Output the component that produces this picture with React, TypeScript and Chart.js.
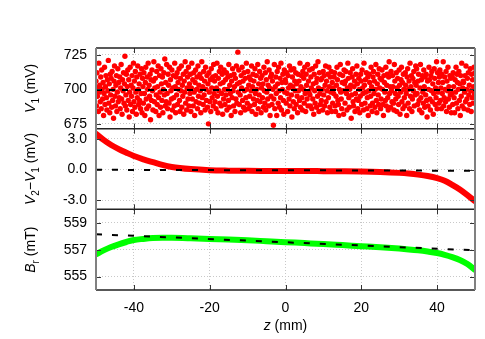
import React, { useEffect, useRef } from 'react';
import { Chart, registerables } from 'chart.js';

Chart.register(...registerables);

// ---- data ----
const V1_VALUES = [
  706,688,712,695,701,684,719,698,703,691,709,686,714,700,693,705,681,697,716,689,702,710,694,685,707,
  699,721,690,704,683,711,696,708,687,713,692,700,679,706,717,695,688,703,710,684,698,715,691,705,694,
  709,686,701,718,693,682,707,699,712,690,704,724,688,696,711,685,702,714,692,707,680,698,716,689,703,
  695,710,684,701,719,691,706,687,713,698,682,709,694,717,700,689,704,692,711,686,697,715,683,708,702,
  690,712,697,681,705,716,693,686,709,700,719,688,703,695,711,678,707,692,714,699,685,706,720,691,701,
  708,684,696,713,689,702,717,694,681,710,698,687,715,704,692,709,683,700,712,696,722,688,705,691,718,
  697,686,711,703,690,716,680,707,699,693,714,685,701,710,694,688,719,702,683,709,696,712,689,705,700,
  715,692,684,708,699,717,687,703,695,711,682,706,698,720,690,713,685,701,709,693,716,688,704,697,711,
  684,701,719,693,707,688,712,698,681,705,714,691,700,709,686,717,695,703,690,711,699,683,708,720,694,
  702,689,713,696,706,685,716,700,692,710,687,704,675,712,698,691,707,684,715,701,694,709,688,718,697,
  706,691,710,686,701,719,695,683,708,699,713,690,704,716,688,697,711,682,705,693,714,700,689,707,696,
  712,685,700,709,692,718,687,703,697,710,681,706,694,715,699,688,711,702,684,708,693,717,690,704,727,
  698,714,689,705,696,683,710,701,716,692,706,687,712,699,685,708,694,719,700,690,713,686,703,709,695,
  688,707,699,717,684,702,711,693,706,689,715,697,682,710,700,692,718,686,704,696,713,691,708,683,701,
  710,694,704,687,716,699,690,712,685,707,698,720,693,703,688,714,701,681,709,695,711,689,706,700,674,
  693,718,686,702,709,697,681,713,704,690,716,699,687,708,694,719,685,705,700,711,692,682,714,698,707,
  705,690,712,697,684,710,701,693,717,688,703,714,696,680,709,702,691,715,686,706,699,712,689,704,695,
  683,711,699,706,692,719,687,702,710,694,685,713,700,708,690,716,697,684,711,703,693,718,688,706,698,
  714,696,688,709,701,686,715,693,704,682,711,699,690,717,705,687,708,695,720,701,684,712,697,689,707,
  692,708,700,685,713,696,710,688,703,717,691,706,699,683,711,694,716,702,687,709,698,713,684,705,690,
  701,697,709,712,688,684,695,703,716,707,692,689,681,700,711,718,698,693,686,705,710,699,682,714,704,
  690,706,713,697,685,701,719,708,694,687,700,712,703,679,696,709,715,691,688,702,706,684,697,711,693,
  717,704,686,692,708,700,683,695,711,706,689,714,701,697,685,719,703,690,707,698,712,686,694,709,681,
  699,711,705,688,695,716,702,684,690,709,713,697,706,687,700,718,692,683,704,711,696,689,715,701,708,
  686,693,707,714,700,689,681,710,705,698,692,716,688,703,711,694,685,709,720,697,702,687,713,699,691,
  710,702,690,685,718,706,697,693,712,684,701,708,695,689,714,703,682,698,707,716,691,705,686,711,700,
  694,688,712,703,697,681,709,715,690,700,706,686,719,695,702,710,684,693,708,699,713,688,705,696,717,
  703,715,697,689,706,711,692,685,701,718,694,707,683,710,698,690,714,702,687,709,696,711,692,680,706,
  688,700,716,707,693,685,710,699,713,691,704,682,697,715,708,689,701,694,720,686,712,698,705,690,709,
  714,692,701,686,711,697,705,720,688,694,709,700,691,713,684,706,699,716,693,702,687,710,696,708,683,
  697,709,689,712,702,694,683,707,698,716,690,711,705,686,700,713,692,704,681,710,695,719,688,701,706,
  705,686,698,710,691,717,700,693,708,685,712,696,703,689,715,699,684,711,694,707,690,702,716,697,712,
];
const Z_MIN = -50;
const Z_MAX = 50;

const Z_CURVE = [-50,-48,-46,-44,-42,-40,-37.5,-35,-32.5,-30,-25,-20,-15,-10,-5,0,5,10,15,20,25,30,32.5,35,37.5,40,42,44,46,48,50];
const DIFF_VALUES = [3.5,2.9,2.4,2.0,1.65,1.32,1.0,0.72,0.45,0.25,0.04,-0.07,-0.11,-0.13,-0.14,-0.15,-0.15,-0.16,-0.17,-0.19,-0.24,-0.33,-0.4,-0.5,-0.64,-0.85,-1.1,-1.5,-1.95,-2.5,-3.1];
const BR_VALUES = [556.65,556.95,557.2,557.4,557.57,557.72,557.8,557.86,557.88,557.88,557.85,557.8,557.75,557.7,557.63,557.56,557.49,557.42,557.34,557.26,557.18,557.08,557.02,556.95,556.86,556.75,556.62,556.45,556.23,555.93,555.5];

const FIT_Z = [-50, 50];
const V1_FIT = [699.5, 699.5];
const DIFF_FIT = [-0.03, -0.12];
const BR_FIT = [558.15, 556.95];

const X_TICKS = [-40, -20, 0, 20, 40];
const V1_TICKS = [675, 700, 725];
const DIFF_TICKS = [-3, 0, 3];
const BR_TICKS = [555, 557, 559];

const FONT = '"Liberation Sans", Arial, Helvetica, sans-serif';

type Part = { t: string; i?: boolean; sub?: boolean };

function drawRich(ctx: CanvasRenderingContext2D, parts: Part[], cx: number, cy: number, angle: number) {
  ctx.save();
  ctx.translate(cx, cy);
  ctx.rotate(angle);
  const fontOf = (p: Part) => `${p.i ? 'italic ' : ''}${p.sub ? 10 : 14}px ${FONT}`;
  let total = 0;
  const widths = parts.map((p) => {
    ctx.font = fontOf(p);
    const w = ctx.measureText(p.t).width;
    total += w;
    return w;
  });
  let x = -total / 2;
  ctx.fillStyle = '#000';
  ctx.textBaseline = 'alphabetic';
  ctx.textAlign = 'left';
  parts.forEach((p, k) => {
    ctx.font = fontOf(p);
    ctx.fillText(p.t, x, p.sub ? 9 : 5);
    x += widths[k];
  });
  ctx.restore();
}

const framePlugin = {
  id: 'frame',
  afterDraw(chart: any) {
    const ctx: CanvasRenderingContext2D = chart.ctx;
    const ca = chart.chartArea;
    const xs = chart.scales.x;
    const panels = [
      { s: chart.scales.y1, ticks: V1_TICKS, title: [{ t: 'V', i: true }, { t: '1', sub: true }, { t: ' (mV)' }] },
      { s: chart.scales.y2, ticks: DIFF_TICKS, title: [{ t: 'V', i: true }, { t: '2', sub: true }, { t: '\u2212' }, { t: 'V', i: true }, { t: '1', sub: true }, { t: ' (mV)' }] },
      { s: chart.scales.y3, ticks: BR_TICKS, title: [{ t: 'B', i: true }, { t: 'r', sub: true }, { t: ' (mT)' }] },
    ];
    ctx.save();
    // inward ticks
    ctx.strokeStyle = '#333';
    ctx.lineWidth = 1;
    ctx.beginPath();
    panels.forEach(({ s, ticks }) => {
      X_TICKS.forEach((v) => {
        const px = Math.round(xs.getPixelForValue(v)) + 0.5;
        ctx.moveTo(px, s.top);
        ctx.lineTo(px, s.top + 5);
        ctx.moveTo(px, s.bottom);
        ctx.lineTo(px, s.bottom - 5);
      });
      ticks.forEach((v) => {
        const py = Math.round(s.getPixelForValue(v)) + 0.5;
        ctx.moveTo(ca.left, py);
        ctx.lineTo(ca.left + 5, py);
        ctx.moveTo(ca.right, py);
        ctx.lineTo(ca.right - 5, py);
      });
    });
    ctx.stroke();
    // horizontal borders
    ctx.strokeStyle = '#222';
    ctx.lineWidth = 1.5;
    ctx.beginPath();
    const hs = [panels[0].s.top, panels[0].s.bottom, panels[1].s.bottom, panels[2].s.bottom];
    hs.forEach((y) => {
      ctx.moveTo(ca.left, y);
      ctx.lineTo(ca.right, y);
    });
    ctx.stroke();
    // vertical borders
    ctx.strokeStyle = '#808080';
    ctx.lineWidth = 2;
    ctx.beginPath();
    ctx.moveTo(ca.left, ca.top);
    ctx.lineTo(ca.left, ca.bottom);
    ctx.moveTo(ca.right, ca.top);
    ctx.lineTo(ca.right, ca.bottom);
    ctx.stroke();
    // titles
    panels.forEach(({ s, title }) => {
      drawRich(ctx, title as Part[], 30, (s.top + s.bottom) / 2, -Math.PI / 2);
    });
    drawRich(ctx, [{ t: 'z', i: true }, { t: ' (mm)' }], (ca.left + ca.right) / 2, 325, 0);
    ctx.restore();
  },
};

export default function App() {
  const ref = useRef<HTMLCanvasElement | null>(null);
  useEffect(() => {
    const canvas = ref.current;
    if (!canvas) return;
    const n = V1_VALUES.length;
    const scatter = V1_VALUES.map((y, i) => ({ x: Z_MIN + (i * (Z_MAX - Z_MIN)) / (n - 1), y }));
    const pts = (zs: number[], ys: number[]) => zs.map((x, i) => ({ x, y: ys[i] }));
    const gridCommon = { color: '#c8c8c8', lineWidth: 1, drawTicks: false };
    const borderCommon = { display: false, dash: [1, 2] };
    const tickFont = { family: FONT, size: 14 };
    const yAxis = (min: number, max: number, ticks: number[], fmt: (v: number) => string) => ({
      type: 'linear',
      position: 'left',
      stack: 'panels',
      stackWeight: 1,
      min,
      max,
      grid: gridCommon,
      border: borderCommon,
      ticks: { font: tickFont, color: '#000', padding: 9, callback: (v: any) => fmt(Number(v)) },
      afterBuildTicks: (s: any) => {
        s.ticks = ticks.map((v) => ({ value: v }));
      },
      afterFit: (s: any) => {
        s.width = 96;
      },
    });
    const chart = new Chart(canvas, {
      type: 'line',
      data: {
        datasets: [
          { data: pts(FIT_Z, V1_FIT), yAxisID: 'y1', borderColor: '#000', borderWidth: 2, borderDash: [6, 7], pointRadius: 0, order: 0 },
          { data: pts(FIT_Z, DIFF_FIT), yAxisID: 'y2', borderColor: '#000', borderWidth: 2, borderDash: [6, 10], pointRadius: 0, order: 0 },
          { data: pts(FIT_Z, BR_FIT), yAxisID: 'y3', borderColor: '#000', borderWidth: 2, borderDash: [6, 10], pointRadius: 0, order: 0 },
          { data: scatter, yAxisID: 'y1', showLine: false, pointRadius: 2.7, pointBackgroundColor: '#ff0000', pointBorderWidth: 0, order: 1 },
          { data: pts(Z_CURVE, DIFF_VALUES), yAxisID: 'y2', borderColor: '#ff0000', borderWidth: 6, pointRadius: 0, cubicInterpolationMode: 'monotone', borderCapStyle: 'round', order: 1 },
          { data: pts(Z_CURVE, BR_VALUES), yAxisID: 'y3', borderColor: '#00ff00', borderWidth: 6, pointRadius: 0, cubicInterpolationMode: 'monotone', borderCapStyle: 'round', order: 1 },
        ],
      } as any,
      options: {
        animation: false,
        responsive: false,
        devicePixelRatio: 1,
        layout: { padding: { top: 48, right: 10, left: 0, bottom: 0 } },
        plugins: { legend: { display: false }, tooltip: { enabled: false } },
        scales: {
          x: {
            type: 'linear',
            min: Z_MIN,
            max: Z_MAX,
            grid: gridCommon,
            border: borderCommon,
            ticks: { font: tickFont, color: '#000', padding: 10, maxRotation: 0 },
            afterBuildTicks: (s: any) => {
              s.ticks = X_TICKS.map((v) => ({ value: v }));
            },
            afterFit: (s: any) => {
              s.height = 49;
            },
          },
          y3: yAxis(554, 560, BR_TICKS, (v) => String(v)),
          y2: yAxis(-3.9, 4.0, DIFF_TICKS, (v) => v.toFixed(1)),
          y1: yAxis(671.5, 730, V1_TICKS, (v) => String(v)),
        } as any,
      },
      plugins: [framePlugin],
    });
    return () => chart.destroy();
  }, []);
  return (
    <div style={{ position: 'fixed', left: 0, top: 0, width: 485, height: 339, background: '#fff' }}>
      <canvas ref={ref} width={485} height={339} style={{ width: 485, height: 339, display: 'block' }} />
    </div>
  );
}
